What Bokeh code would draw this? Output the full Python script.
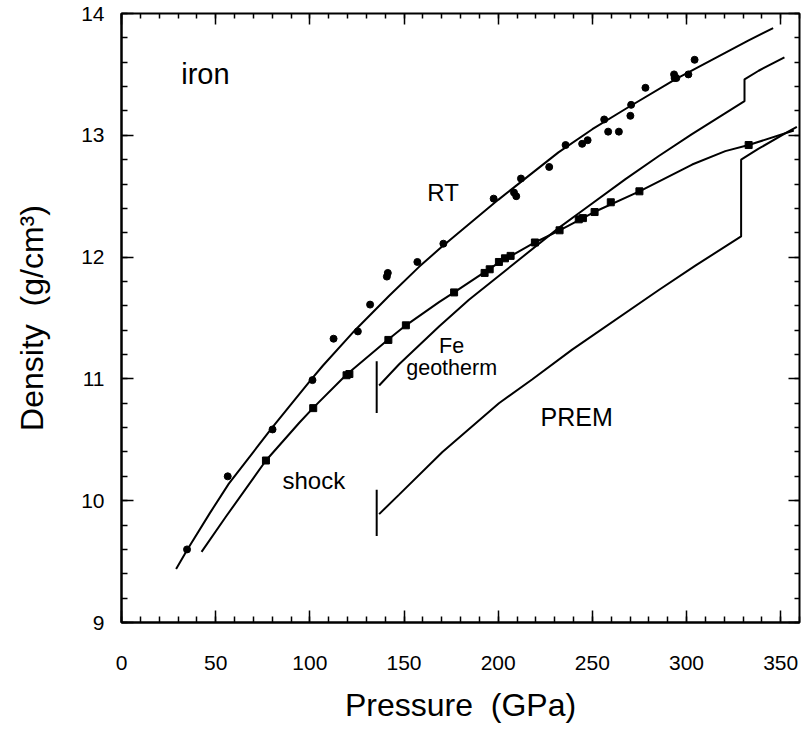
from bokeh.plotting import figure
from bokeh.models import Range1d, SingleIntervalTicker, LinearAxis
from bokeh.core.properties import value
from bokeh.embed import file_html
from bokeh.resources import INLINE

FONT = "Liberation Sans"

# ---- data (pressure in GPa, density in g/cm3) ----
rt_p = [34.8, 56.4, 80.2, 101.4, 112.6, 125.5, 132.0, 140.9, 141.4, 157.1, 170.9, 197.6,
        208.4, 209.6, 212.1, 227.1, 235.8, 244.6, 247.5, 256.3, 258.4, 264.1, 270.2,
        270.6, 278.2, 293.4, 293.7, 294.6, 301.0, 304.3]
rt_rho = [9.60, 10.20, 10.585, 10.99, 11.33, 11.39, 11.61, 11.84, 11.87, 11.96, 12.11, 12.48,
          12.53, 12.50, 12.645, 12.74, 12.92, 12.93, 12.96, 13.13, 13.03, 13.03, 13.16,
          13.25, 13.39, 13.50, 13.47, 13.47, 13.50, 13.62]

shock_p = [76.7, 101.8, 119.5, 121.0, 141.7, 151.0, 176.6, 192.8, 195.5, 200.4, 203.6,
           206.6, 219.5, 232.6, 242.8, 245.0, 251.2, 259.8, 275.0, 333.0]
shock_rho = [10.33, 10.76, 11.03, 11.04, 11.32, 11.44, 11.71, 11.87, 11.90, 11.96, 11.99,
             12.01, 12.12, 12.22, 12.31, 12.32, 12.37, 12.45, 12.54, 12.92]

rt_curve_p = [29, 35, 47, 57, 73, 80, 90, 101, 107, 124, 142, 158, 169, 200, 232, 250,
              268, 294, 333, 346]
rt_curve_rho = [9.44, 9.60, 9.90, 10.14, 10.46, 10.60, 10.79, 11.00, 11.11, 11.40, 11.68,
                11.92, 12.07, 12.47, 12.86, 13.05, 13.22, 13.46, 13.78, 13.88]

shock_curve_p = [42.5, 55.5, 76.7, 94.4, 102.3, 119.1, 142.1, 151, 168.6, 176.6, 200,
                 219.5, 232.6, 251, 275, 303, 320.6, 333, 357]
shock_curve_rho = [9.58, 9.87, 10.33, 10.64, 10.77, 11.03, 11.33, 11.44, 11.63, 11.71,
                   11.95, 12.12, 12.22, 12.37, 12.54, 12.76, 12.87, 12.92, 13.04]

geotherm_p = [136.8, 147.4, 168.6, 184.5, 232.2, 242.8, 267.6, 285.3, 302.9, 330.8,
              330.8, 338.3, 352]
geotherm_rho = [10.946, 11.12, 11.43, 11.65, 12.24, 12.36, 12.64, 12.83, 13.01, 13.28,
                13.46, 13.53, 13.64]

prem_p = [136.8, 147.4, 170.4, 200.4, 218, 239.3, 285.3, 304.7, 329, 329, 338.3, 354, 358.6]
prem_rho = [9.89, 10.05, 10.40, 10.80, 10.995, 11.24, 11.73, 11.93, 12.17, 12.80, 12.89,
            13.03, 13.07]

cmb_p = [135.5, 135.5]
geotherm_cmb_rho = [10.72, 11.145]
prem_cmb_rho = [9.71, 10.09]

labels = ["iron", "RT", "shock", "PREM"]
label_p = [31.7, 162.4, 85.5, 222.5]
label_rho = [13.50, 12.528, 10.166, 10.689]
label_size = ["29px", "24px", "24px", "25px"]

fe_label = ["Fe", "geotherm"]
fe_label_p = [175.3, 175.3]
fe_label_rho = [11.268, 11.09]

# ---- figure ----
p = figure(width=802, height=728, output_backend="svg", toolbar_location=None,
           x_range=Range1d(0, 360), y_range=Range1d(9, 14),
           min_border_left=121, min_border_right=3, min_border_top=13, min_border_bottom=106)
p.grid.visible = False
p.background_fill_color = "white"
p.border_fill_color = "white"
p.outline_line_color = "black"
p.outline_line_width = 2

xt = SingleIntervalTicker(interval=50, num_minor_ticks=5)
yt = SingleIntervalTicker(interval=1, num_minor_ticks=5)
p.xaxis.ticker = xt
p.yaxis.ticker = yt

for ax in (p.xaxis[0], p.yaxis[0]):
    ax.axis_line_width = 2
    ax.major_tick_in = 12
    ax.major_tick_out = 0
    ax.minor_tick_in = 6
    ax.minor_tick_out = 0
    ax.major_tick_line_width = 1.5
    ax.minor_tick_line_width = 1.5
    ax.major_label_text_font = FONT
    ax.major_label_text_font_size = "21px"
    ax.major_label_text_color = "black"
    ax.axis_label_text_font = FONT
    ax.axis_label_text_font_size = "32px"
    ax.axis_label_text_font_style = "normal"
    ax.axis_label_text_color = "black"

p.xaxis.axis_label = "Pressure \u00a0(GPa)"
p.yaxis.axis_label = "Density \u00a0(g/cm³)"
p.xaxis.major_label_standoff = 33
p.yaxis.major_label_standoff = 17
p.xaxis.axis_label_standoff = 14
p.yaxis.axis_label_standoff = 28

# mirrored tick marks on top and right (no labels)
for loc, tk in (("above", xt), ("right", yt)):
    a = LinearAxis(ticker=tk, axis_line_color=None,
                   major_tick_in=11, major_tick_out=0, minor_tick_in=5, minor_tick_out=0,
                   major_tick_line_width=1.5, minor_tick_line_width=1.5,
                   major_label_text_color=None, major_label_text_alpha=0,
                   major_label_text_font_size="1px", major_label_standoff=0)
    p.add_layout(a, loc)

# ---- curves ----
lw = 2
p.line(rt_curve_p, rt_curve_rho, line_color="black", line_width=lw)
p.line(shock_curve_p, shock_curve_rho, line_color="black", line_width=lw)
p.line(geotherm_p, geotherm_rho, line_color="black", line_width=lw)
p.line(prem_p, prem_rho, line_color="black", line_width=lw)
p.line(cmb_p, geotherm_cmb_rho, line_color="black", line_width=lw)
p.line(cmb_p, prem_cmb_rho, line_color="black", line_width=lw)

# ---- data points ----
p.scatter(rt_p, rt_rho, marker="circle", size=7, fill_color="black", line_color="black")
p.scatter(shock_p, shock_rho, marker="square", size=7, fill_color="black", line_color="black")

# ---- labels ----
for t, x, y, s in zip(labels, label_p, label_rho, label_size):
    p.text([x], [y], text=[t], text_font=value(FONT), text_font_size=s,
           text_baseline="alphabetic", text_align="left", text_color="black")
p.text(fe_label_p, fe_label_rho, text=fe_label, text_font=value(FONT), text_font_size="21.5px",
       text_baseline="alphabetic", text_align="center", text_color="black")

open("out.html", "w").write(file_html(p, INLINE))
